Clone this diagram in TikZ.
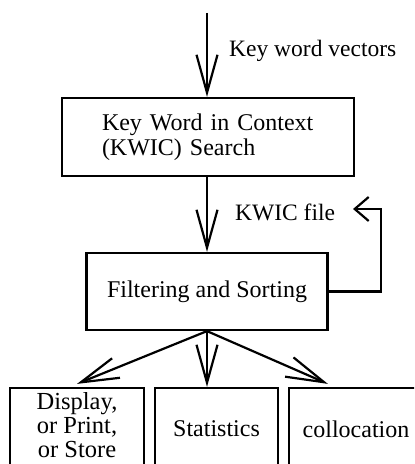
\documentclass[tikz,border=0pt]{standalone}
\usepackage{fontspec}
\setmainfont{Liberation Serif}
\usetikzlibrary{arrows.meta}
\begin{document}
\begin{tikzpicture}[x=1bp,y=-1bp,
  box/.style={draw,line width=2.2bp,inner sep=0pt,font=\fontsize{24bp}{23bp}\selectfont},
  arr/.style={line width=2.2bp,-{Straight Barb[length=38bp,width=21bp,line width=2.2bp]}},
  fbarr/.style={line width=2.2bp,-{Straight Barb[length=14bp,width=24bp,line width=2.2bp]}},
  lbl/.style={font=\fontsize{23.5bp}{24bp}\selectfont,inner sep=0pt}]
\useasboundingbox (0,0) rectangle (414,464);
\clip (0,0) rectangle (414,464);
\node[box, minimum width=292bp, minimum height=78bp, align=left, text width=212bp,
      font=\fontsize{24bp}{25bp}\selectfont] (kwic) at (208,137) {Key Word in Context\\(KWIC) Search};
\node[box, minimum width=241bp, minimum height=77bp] (filt) at (207,291.5) {Filtering and Sorting};
\node[box, minimum width=134bp, minimum height=82bp] (disp) at (77,429) {};
\node[lbl, align=center, font=\fontsize{24.5bp}{24bp}\selectfont] (disptxt) at (77,425) {Display,\\or Print,\\or Store};
\node[box, minimum width=123bp, minimum height=82bp] (stat) at (216.5,429) {Statistics};
\node[box, minimum width=134bp, minimum height=82bp] (coll) at (356,429) {collocation};
\node[lbl, anchor=base west] (kwv) at (229,57) {Key word vectors};
\node[lbl, anchor=base west] (kf) at (235,221) {KWIC file};
\coordinate (top) at (207,13);
\coordinate (axis) at (207,0);
\coordinate (fb) at (381,209);
\coordinate (fbtip) at (353,209);
\draw[arr] (top) -- (top |- kwic.north);
\draw[arr] (axis |- kwic.south) -- (axis |- filt.north);
\draw[arr] (axis |- filt.south) -- ([yshift=3bp]disp.north);
\draw[arr] (axis |- filt.south) -- (axis |- stat.north);
\draw[arr] (axis |- filt.south) -- ([xshift=40bp,yshift=3bp]coll.north west);
\draw[fbarr] (filt.east) -| (fb) -- (fbtip);
\end{tikzpicture}
\end{document}
